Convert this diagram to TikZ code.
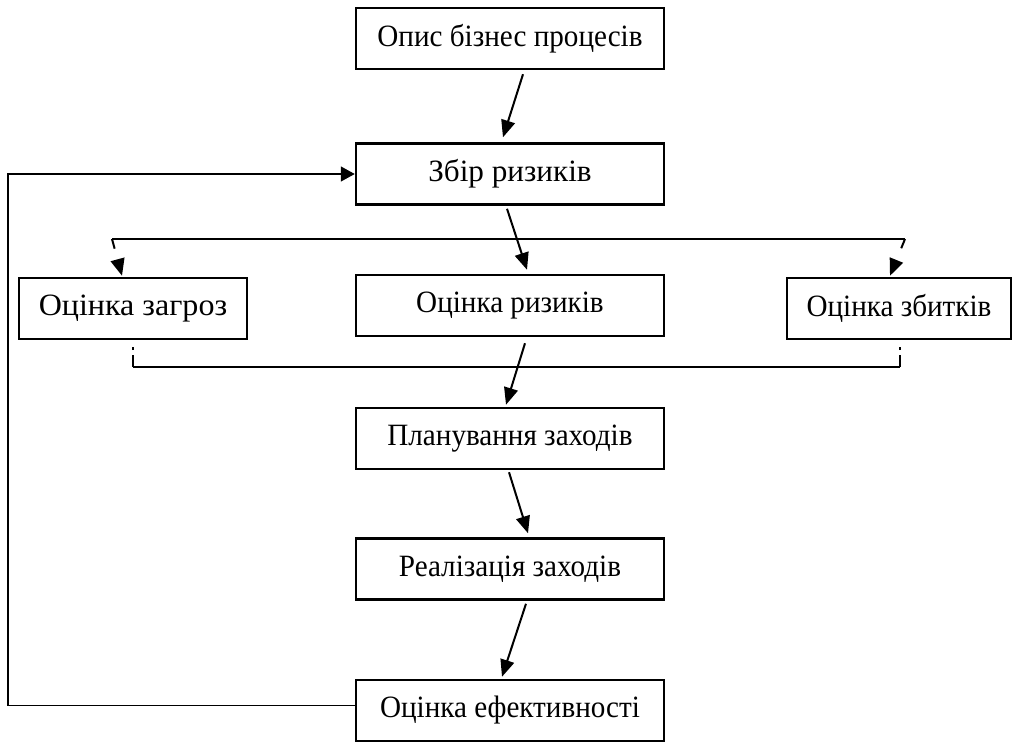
\documentclass[tikz,border=0pt]{standalone}
\usepackage{fontspec}
\setmainfont{Liberation Serif}[FakeStretch=0.94]
\usetikzlibrary{arrows.meta,calc}
\tikzset{
  box/.style={draw=black, line width=2.5pt, minimum height=61pt, inner sep=0pt,
    font=\fontsize{31}{36}\selectfont},
  wbox/.style={box, minimum width=308pt},
  conn/.style={line width=2pt, -{Triangle[length=17pt,width=14pt]}},
  dconn/.style={conn, dash pattern=on 10pt off 30pt},
  bar/.style={line width=1.8pt},
  dtick/.style={line width=1.8pt, dash pattern=on 12pt off 5pt on 3pt off 20pt},
  fb/.style={line width=1.4pt, -{Triangle[length=14pt,width=15pt]}}
}
\begin{document}
\begin{tikzpicture}[x=1pt,y=-1pt]
\useasboundingbox (0,0) rectangle (1014,744);
\node[wbox] (b1) at (510,38.5) {Опис бізнес процесів};
\node[wbox] (b2) at (510,174) {\scalebox{1.07}[1]{Збір ризиків}};
\node[box, minimum width=228pt] (bz) at (133,308.5) {\scalebox{1.1}[1]{Оцінка загроз}};
\node[wbox] (br) at (510,305.5) {\raisebox{4pt}{Оцінка ризиків}};
\node[box, minimum width=224pt] (bs) at (899,308.5) {Оцінка збитків};
\node[wbox] (pl) at (510,438.5) {Планування заходів};
\node[wbox] (re) at (510,569) {Реалізація заходів};
\node[wbox] (ef) at (510,710.5) {Оцінка ефективності};

\coordinate (tl) at (112,239);
\coordinate (tr) at (905,239);
\coordinate (bl) at (133,367);
\coordinate (bq) at (900,367);
\coordinate (fbl) at (8,0);

% main flow
\draw[conn] ($(b1.south)+(13,4)$) -- ($(b2.north)+(-7,-5)$);
\draw[conn] ($(b2.south)+(-3,3)$) -- ($(br.north)+(17,-4)$);
\draw[conn] ($(br.south)+(15,6)$) -- ($(pl.north)+(-4,-2)$);
\draw[conn] ($(pl.south)+(-1,2)$) -- ($(re.north)+(18,-4)$);
\draw[conn] ($(re.south)+(16,3)$) -- ($(ef.north)+(-8,-2)$);

% top distribution bar
\draw[bar] (tl) -- (tr);
\draw[dconn] (tl) -- ($(bz.north)+(-11,-1)$);
\draw[dconn] (tr) -- ($(bs.north)+(-9,-1)$);

% bottom collecting bar
\draw[bar] (bl) -- (bq);
\draw[dtick] (bl) -- ++(0,-22);
\draw[dtick] (bq) -- ++(0,-22);

% feedback loop
\draw[fb] ($(ef.west)+(0,-5)$) -- ($(ef.west -| fbl)+(0,-5)$) |- (b2.west);
\end{tikzpicture}
\end{document}
